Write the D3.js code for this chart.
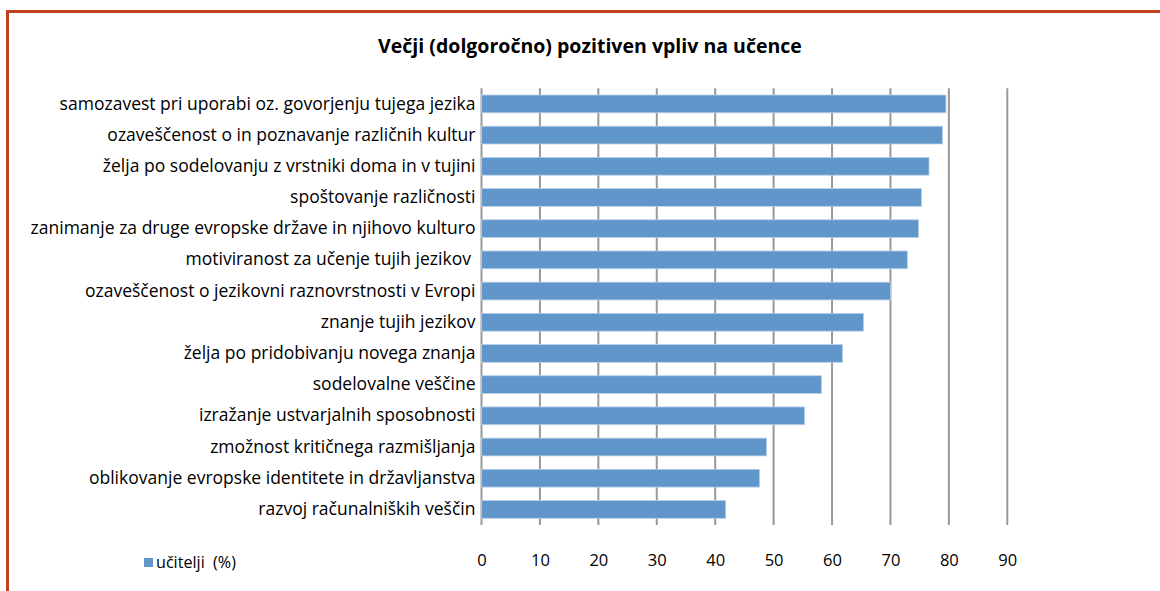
<!DOCTYPE html>
<html><head><meta charset="utf-8">
<script src="https://cdn.jsdelivr.net/npm/d3@7"></script>
<style>
html,body{margin:0;padding:0;background:#fff;}
svg{display:block;font-family:"Open Sans",sans-serif;}
text{white-space:pre;}
</style></head>
<body><svg id="c" width="1160" height="591"></svg>
<script>
const categories = [
  "samozavest pri uporabi oz. govorjenju tujega jezika",
  "ozaveščenost o in poznavanje različnih kultur",
  "želja po sodelovanju z vrstniki doma in v tujini",
  "spoštovanje različnosti",
  "zanimanje za druge evropske države in njihovo kulturo",
  "motiviranost za učenje tujih jezikov ",
  "ozaveščenost o jezikovni raznovrstnosti v Evropi",
  "znanje tujih jezikov",
  "želja po pridobivanju novega znanja",
  "sodelovalne veščine",
  "izražanje ustvarjalnih sposobnosti",
  "zmožnost kritičnega razmišljanja",
  "oblikovanje evropske identitete in državljanstva",
  "razvoj računalniških veščin"
];
const values = [79.5, 78.9, 76.6, 75.3, 74.8, 72.9, 70.0, 65.4, 61.8, 58.2, 55.3, 48.8, 47.6, 41.8];
const ticks = [0,10,20,30,40,50,60,70,80,90];
const title = "Večji (dolgoročno) pozitiven vpliv na učence";
const seriesName = "učitelji  (%)";

const svg = d3.select("#c");
const FONT = "'Open Sans',sans-serif";
// frame
svg.append("rect").attr("x",7.5).attr("y",11.5).attr("width",1160).attr("height",600)
  .attr("fill","none").attr("stroke","#c0431f").attr("stroke-width",3);

const x = d3.scaleLinear().domain([0,90]).range([481.5,1007.3]);
const y = d3.scaleBand().domain(categories).range([88.3,525]).paddingInner(0.43).paddingOuter(0.215);

function fit(sel, target){
  const w = sel.node().getComputedTextLength();
  const fs = parseFloat(sel.attr("font-size"));
  sel.attr("font-size", (fs*target/w).toFixed(2));
}

const g = svg.append("g");
// gridlines
g.selectAll("line.grid").data(ticks).join("line").attr("class","grid")
  .attr("x1",d=>x(d)).attr("x2",d=>x(d)).attr("y1",88.3).attr("y2",525)
  .attr("stroke","#999").attr("stroke-width",2);

// bars
g.selectAll("rect.bar").data(values).join("rect").attr("class","bar")
  .attr("x",x(0)).attr("y",(d,i)=>y(categories[i]))
  .attr("width",d=>x(d)-x(0)).attr("height",y.bandwidth())
  .attr("fill","#6096c9").attr("stroke","#b9d0ea").attr("stroke-width",0.8);

// x axis labels
const xa = svg.append("g").attr("transform","translate(0,525)")
  .call(d3.axisBottom(x).tickValues(ticks).tickSize(0).tickPadding(29));
xa.select(".domain").remove();
xa.selectAll("text").attr("font-size",16.5).attr("font-family",FONT).attr("fill","#000");

// y axis labels
const ya = svg.append("g").attr("transform","translate(481.5,0)")
  .call(d3.axisLeft(y).tickSize(0).tickPadding(6));
ya.select(".domain").remove();
ya.selectAll("text").attr("font-size",15).attr("font-family",FONT).attr("fill","#000");
{
  const first = ya.select(".tick text");
  const w = first.node().getComputedTextLength();
  const fs = 15*416/w;
  ya.selectAll("text").attr("font-size",fs.toFixed(2));
}

// title
const t = svg.append("text").attr("x",590).attr("y",53).attr("text-anchor","middle")
  .attr("font-family",FONT).attr("font-size",17).attr("font-weight","bold").attr("fill","#000").text(title);
fit(t, 424);

// legend
svg.append("rect").attr("x",144).attr("y",558).attr("width",9).attr("height",9).attr("fill","#6096c9");
const lt = svg.append("text").attr("x",156).attr("y",568).attr("font-family",FONT).attr("font-size",14).attr("fill","#000").text(seriesName);
fit(lt, 80);
</script></body></html>
